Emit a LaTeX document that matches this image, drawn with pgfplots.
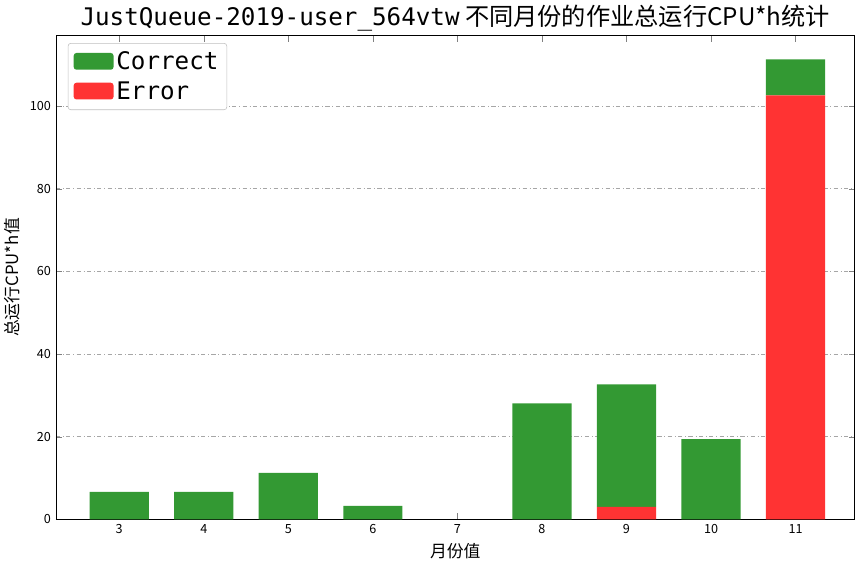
\documentclass[border=0pt]{standalone}
\usepackage{pgfplots}
\pgfplotsset{compat=1.18}
\usepackage{fontspec}
\setmainfont{Noto Sans CJK SC}
\newfontfamily\mono{DejaVu Sans Mono}
\definecolor{cg}{HTML}{339933}
\definecolor{cr}{HTML}{FF3333}
\begin{document}
\begin{tikzpicture}
\begin{axis}[
  width=570pt, height=345pt, scale only axis,
  ybar stacked, bar width=0.7,
  xmin=2.25, xmax=11.7, ymin=0, ymax=117,
  xtick={3,...,11}, ytick={0,20,40,60,80,100},
  ymajorgrids, grid style={gray!70, dash dot},
  tick label style={font=\small},
  /pgf/number format/assume math mode=true,
  title={{\mono JustQueue-2019-user\_564vtw} 不同月份的作业总运行CPU*h统计},
  title style={font=\LARGE, yshift=-6pt},
  xlabel={月份值}, ylabel={总运行CPU*h值},
  label style={font=\large},
  legend style={at={(0.015,0.985)}, anchor=north west, font=\LARGE\mono, draw=gray!50, rounded corners=2pt, row sep=3pt, inner sep=4pt, cells={anchor=west}},
  legend image code/.code={\fill[#1] (0cm,-0.2cm) rectangle (1cm,0.22cm);},
  reverse legend,
]
\addplot[fill=cr, draw=none] coordinates {(3,0) (4,0) (5,0) (6,0) (7,0) (8,0) (9,3.0) (10,0) (11,102.6)};
\addlegendentry{Error}
\addplot[fill=cg, draw=none] coordinates {(3,6.67) (4,6.66) (5,11.23) (6,3.27) (7,0) (8,28.04) (9,29.65) (10,19.40) (11,8.70)};
\addlegendentry{Correct}
\addplot[draw=none, fill=none, forget plot,
  nodes near coords, point meta=explicit symbolic,
  every node near coord/.append style={font=\Large\mono, inner sep=0.5pt, anchor=south}]
  table[meta=t] {
x y t
3 0 6.67
4 0 6.66
5 0 11.23
6 0 3.27
7 0 0.00
8 0 28.04
9 0 32.65
10 0 19.40
11 0 111.30
};
\end{axis}
\end{tikzpicture}
\end{document}
